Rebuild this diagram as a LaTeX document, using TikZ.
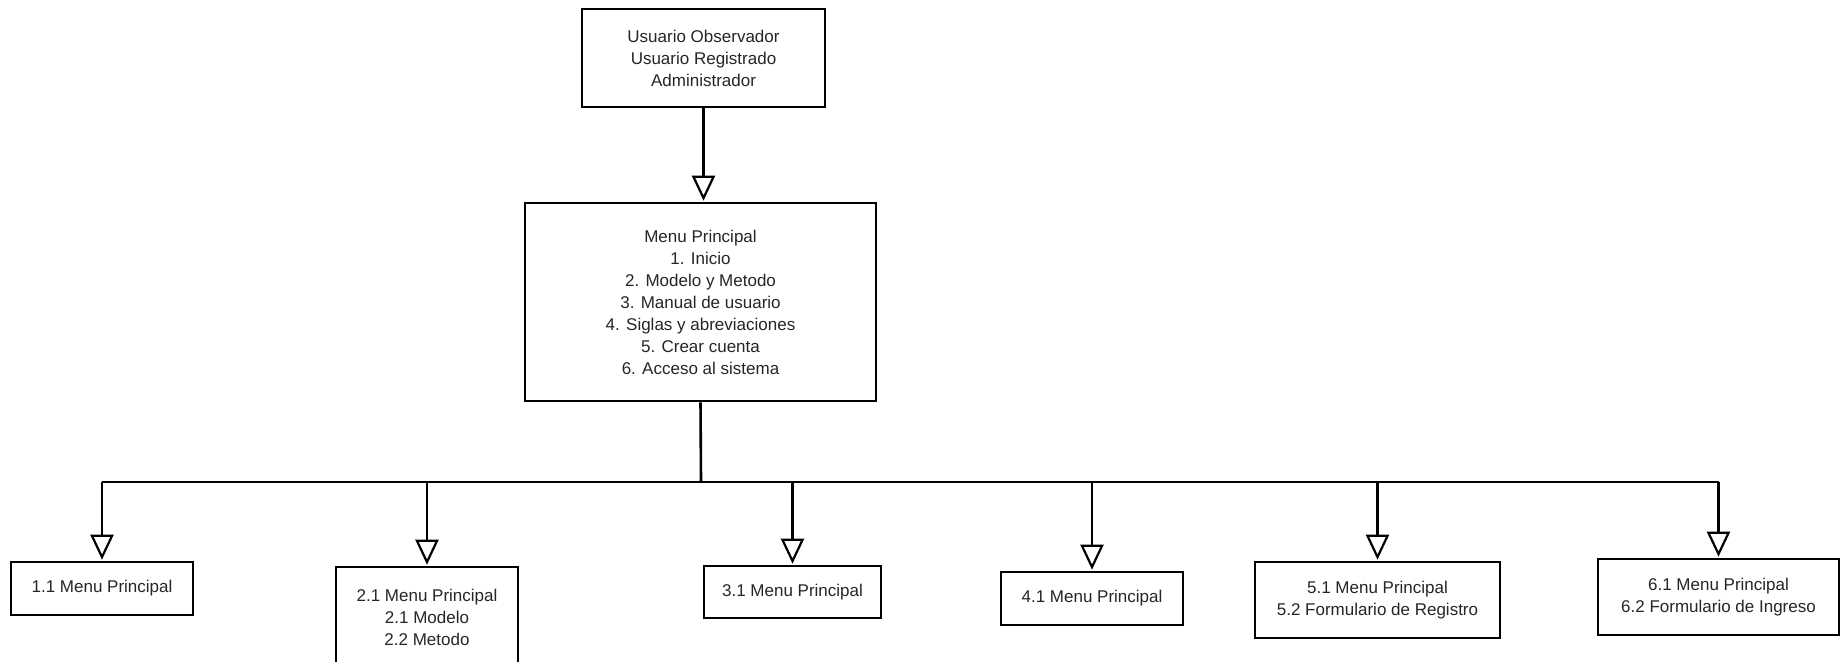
\documentclass[tikz,border=0pt]{standalone}
\usepackage{fontspec}
\setmainfont{Liberation Sans}
\usetikzlibrary{arrows.meta}

\tikzset{
  menubox/.style={draw=black, line width=2.6pt, fill=white, align=center,
    inner sep=0pt, text=black!85,
    font=\fontsize{17}{22}\selectfont},
  link/.style={line width=2.6pt, draw=black},
  hollowtip/.style={link, -{Triangle[open, length=25pt, width=23pt, line width=2.2pt]}, shorten >=1pt}
}

\begin{document}
\begin{tikzpicture}[x=1pt, y=-1pt]
  % page frame in pixel units, origin top left
  \useasboundingbox (0,0) rectangle (1846,661);
  \clip (0,0) rectangle (1846,661);
  \fill[white] (0,0) rectangle (1846,661);

  % users and main menu
  \node[menubox, minimum width=243pt, minimum height=98pt] (users) at (703.5,58)
    {Usuario Observador\\Usuario Registrado\\Administrador};
  \node[menubox, minimum width=351pt, minimum height=198pt] (main) at (700.5,302)
    {Menu Principal\\1. Inicio\\2. Modelo y Metodo\\3. Manual de usuario\\4. Siglas y abreviaciones\\5. Crear cuenta\\6. Acceso al sistema};

  % second level
  \node[menubox, minimum width=182pt, minimum height=53pt] (m1) at (102,588.5)
    {1.1 Menu Principal};
  \node[menubox, minimum width=182pt, minimum height=100pt] (m2) at (427,617)
    {2.1 Menu Principal\\2.1 Modelo\\2.2 Metodo};
  \node[menubox, minimum width=177pt, minimum height=52pt] (m3) at (792.5,592)
    {3.1 Menu Principal};
  \node[menubox, minimum width=182pt, minimum height=53pt] (m4) at (1092,598.5)
    {4.1 Menu Principal};
  \node[menubox, minimum width=245pt, minimum height=76pt] (m5) at (1377.5,600)
    {5.1 Menu Principal\\5.2 Formulario de Registro};
  \node[menubox, minimum width=241pt, minimum height=76pt] (m6) at (1718.5,597)
    {6.1 Menu Principal\\6.2 Formulario de Ingreso};

  % horizontal bus level
  \coordinate (bus) at (701,482);

  % connectors
  \draw[hollowtip] (users.south) -- (users.south |- main.north);
  \draw[link] (main.south) -- (bus);
  \draw[link] (m1.north |- bus) -- (m6.north |- bus);
  \foreach \n in {m1,m2,m3,m4,m5,m6}
    \draw[hollowtip] (\n.north |- bus) -- (\n.north);
\end{tikzpicture}
\end{document}
